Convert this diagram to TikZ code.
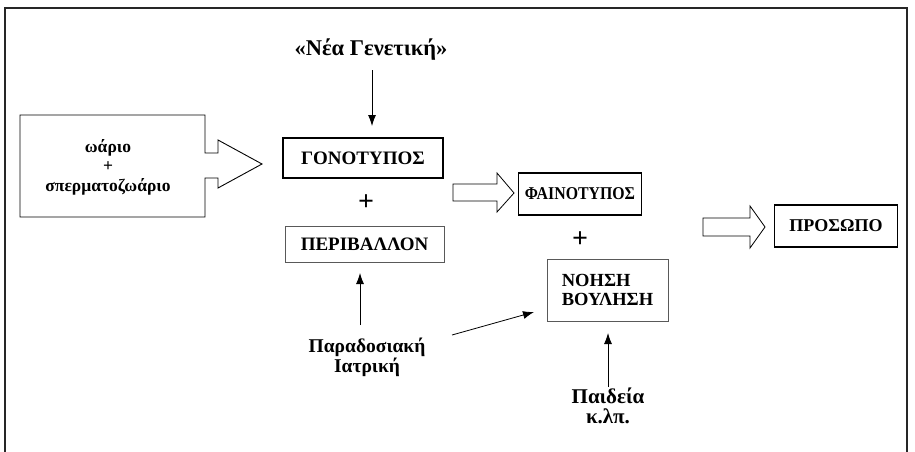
\documentclass[tikz,border=0pt]{standalone}
\usepackage{fontspec}
\setmainfont{Liberation Serif}
\newfontfamily\narrowserif[FakeStretch=0.88]{Liberation Serif}
\usetikzlibrary{arrows.meta}
\begin{document}
\begin{tikzpicture}[x=1pt,y=-1pt,
  txt/.style={font=\bfseries\fontsize{19.5}{20}\selectfont, align=center, inner sep=0pt},
  thickbox/.style={draw, line width=1.7pt, inner sep=0pt, font=\bfseries\fontsize{19}{20}\selectfont},
  thinbox/.style={draw=black!65, line width=0.6pt, inner sep=0pt, font=\bfseries\fontsize{19}{20}\selectfont},
  arr/.style={line width=0.8pt, -{Latex[length=11pt,width=8pt]}},
  blockarr/.style={draw, line width=0.8pt, fill=white},
  plus/.style={font=\bfseries\fontsize{28}{28}\selectfont, inner sep=0pt}
]
\useasboundingbox (0,0) rectangle (915,452);
% frame
\draw[line width=1.1pt, black!85] (5,452) -- (5,8) -- (907,8) -- (907,452);

% title
\node[txt, font=\bfseries\fontsize{22.5}{24}\selectfont] (title) at (371,50) {«Νέα Γενετική»};

% left block arrow
\draw[line width=0.9pt] (20,115) -- (205,115) -- (205,153) -- (218,153) -- (218,140) -- (262,164)
  -- (218,188) -- (218,178) -- (205,178) -- (205,217) -- (20,217) -- cycle;
\node[txt, font=\bfseries\fontsize{17.5}{19.5}\selectfont] (cells) at (108,167) {ωάριο\\+\\σπερματοζωάριο};

% main boxes
\node[thickbox, minimum width=160pt, minimum height=40pt] (gono) at (363,158) {ΓΟΝΟΤΥΠΟΣ};
\node[plus] (plus1) at (366,203) {+};
\node[thinbox, minimum width=159pt, minimum height=36pt] (peri) at (364.5,244) {ΠΕΡΙΒΑΛΛΟΝ};

\draw[blockarr] (453,184) -- (497,184) -- (497,173) -- (514,193) -- (497,212) -- (497,201) -- (453,201) -- cycle;

\node[thickbox, minimum width=123pt, minimum height=42pt, font=\narrowserif\bfseries\fontsize{18}{18}\selectfont] (fain) at (580,194) {ΦΑΙΝΟΤΥΠΟΣ};
\node[plus] (plus2) at (580,240) {+};
\node[thinbox, minimum width=121pt, minimum height=62pt, align=left, font=\bfseries\fontsize{18.5}{19}\selectfont] (noisi) at (607.5,290) {ΝΟΗΣΗ\\ΒΟΥΛΗΣΗ};

\draw[blockarr] (703,218) -- (750,218) -- (750,206) -- (765,227) -- (750,248) -- (750,236) -- (703,236) -- cycle;

\node[thickbox, minimum width=123pt, minimum height=42pt, font=\bfseries\fontsize{18}{19}\selectfont] (pros) at (836,226) {ΠΡΟΣΩΠΟ};

% bottom labels
\node[txt] (trad) at (367,357) {Παραδοσιακή\\Ιατρική};
\node[txt, font=\bfseries\fontsize{21}{20}\selectfont] (paid) at (608,406) {Παιδεία\\κ.λπ.};

% connectors
\coordinate (t1) at (372,70);
\coordinate (t2) at (372,126);
\draw[arr] (t1) -- (t2);
\coordinate (p1) at (360,325);
\coordinate (p2) at (360,273);
\draw[arr] (p1) -- (p2);
\coordinate (d1) at (452,335);
\coordinate (d2) at (534,312);
\draw[arr] (d1) -- (d2);
\coordinate (q1) at (608,387);
\coordinate (q2) at (608,333);
\draw[arr] (q1) -- (q2);
\end{tikzpicture}
\end{document}
